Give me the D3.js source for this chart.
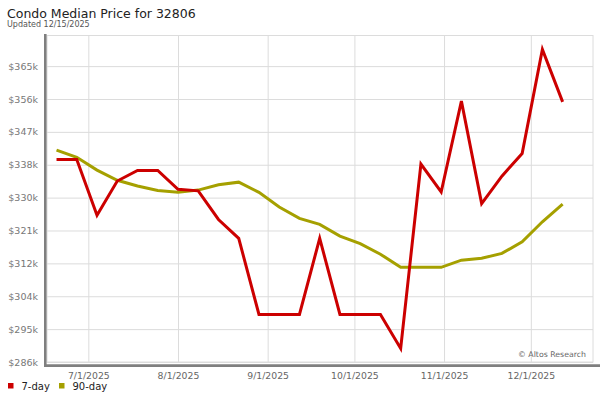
<!DOCTYPE html>
<html>
<head>
<meta charset="utf-8">
<script src="https://cdn.jsdelivr.net/npm/d3@7"></script>
<style>
  html, body { margin: 0; padding: 0; background: #fff; }
  svg { display: block; font-family: "DejaVu Sans", Verdana, sans-serif; }
</style>
</head>
<body>
<svg id="chart" width="600" height="400"></svg>
<script>
// ---- data ----
const titleText = "Condo Median Price for 32806";
const subtitleText = "Updated 12/15/2025";
const dates = ["2025-06-20","2025-06-27","2025-07-04","2025-07-11","2025-07-18","2025-07-25",
  "2025-08-01","2025-08-08","2025-08-15","2025-08-22","2025-08-29","2025-09-05","2025-09-12",
  "2025-09-19","2025-09-26","2025-10-03","2025-10-10","2025-10-17","2025-10-24","2025-10-31",
  "2025-11-07","2025-11-14","2025-11-21","2025-11-28","2025-12-05","2025-12-12"];
const sevenDay = [339800,339800,325000,334100,336900,336900,331900,331500,323900,318900,
  298700,298700,298700,318900,298700,298700,298700,289700,338600,331200,
  355300,328100,335400,341400,369000,355100];
const ninetyDay = [342300,340400,337000,334300,332800,331600,331100,331700,333100,333800,
  331100,327200,324200,322600,319500,317500,314700,311200,311200,311200,
  313100,313600,314900,318000,323300,328000];
const yTickValues = [286100,294820,303540,312260,320980,329700,338420,347140,355860,364580];
const xTickLabels = ["7/1/2025","8/1/2025","9/1/2025","10/1/2025","11/1/2025","12/1/2025"];
const seriesNames = ["7-day","90-day"];
const seriesColors = ["#cc0000","#a5a000"];

// ---- layout ----
const svg = d3.select("#chart");
const pLeft = 47, pRight = 593, pTop = 35.5, pBottom = 362;
const parse = d3.timeParse("%Y-%m-%d");
const parseTick = d3.timeParse("%m/%d/%Y");

const x = d3.scaleTime()
  .domain([new Date(2025,5,16,17), new Date(2025,11,22,12)])
  .range([pLeft, pRight]);
const y = d3.scaleLinear()
  .domain([286100, 372700])
  .range([pBottom, pTop]);

// plot background/border
svg.append("rect").attr("x", pLeft).attr("y", pTop)
  .attr("width", pRight - pLeft).attr("height", pBottom - pTop)
  .attr("fill", "#fff").attr("stroke", "#dcdcdc").attr("stroke-width", 1);

// horizontal grid
const yAxis = d3.axisLeft(y).tickValues(yTickValues)
  .tickSize(-(pRight - pLeft)).tickPadding(9)
  .tickFormat(d => "$" + Math.round(d / 1000) + "k");
const gy = svg.append("g").attr("transform", `translate(${pLeft},0)`).call(yAxis);
gy.select(".domain").remove();
gy.selectAll("line").attr("stroke", "#dcdcdc");
gy.selectAll("text").attr("fill", "#777").style("font-size", "9.5px")
  .attr("font-family", "DejaVu Sans");

// vertical grid
const xTicks = xTickLabels.map(s => parseTick(s));
const xAxis = d3.axisBottom(x).tickValues(xTicks)
  .tickSize(-(pBottom - pTop)).tickPadding(10)
  .tickFormat((d, i) => xTickLabels[i]);
const gx = svg.append("g").attr("transform", `translate(0,${pBottom})`).call(xAxis);
gx.select(".domain").remove();
gx.selectAll("line").attr("stroke", "#dcdcdc");
gx.selectAll("text").attr("fill", "#666").style("font-size", "9.3px")
  .attr("font-family", "DejaVu Sans");

// axis bars
svg.append("line").attr("x1", 45.3).attr("x2", 45.3).attr("y1", 34).attr("y2", 367)
  .attr("stroke", "#7f7f7f").attr("stroke-width", 2.6);
svg.append("line").attr("x1", 44).attr("x2", 600).attr("y1", 365.6).attr("y2", 365.6)
  .attr("stroke", "#7f7f7f").attr("stroke-width", 2.6);

// watermark
svg.append("text").attr("x", 586).attr("y", 357.3).attr("text-anchor", "end")
  .attr("fill", "#666").style("font-size", "7.8px").text("\u00A9 Altos Research");

// lines (90-day first, 7-day on top)
const series = [sevenDay, ninetyDay];
const line = d3.line().x((d, i) => x(parse(dates[i]))).y(d => y(d));
[1, 0].forEach(k => {
  svg.append("path").datum(series[k]).attr("d", line)
    .attr("fill", "none").attr("stroke", seriesColors[k])
    .attr("stroke-width", 3).attr("stroke-linejoin", "miter");
});

// title
svg.append("text").attr("x", 7).attr("y", 18).attr("fill", "#222")
  .style("font-size", "12.5px").text(titleText);
svg.append("text").attr("x", 7).attr("y", 26.7).attr("fill", "#555")
  .style("font-size", "8px").text(subtitleText);

// legend
const legendX = [8, 59];
seriesNames.forEach((name, k) => {
  svg.append("rect").attr("x", legendX[k]).attr("y", 383).attr("width", 5.5).attr("height", 5.5)
    .attr("fill", seriesColors[k]);
  svg.append("text").attr("x", legendX[k] + 13.5).attr("y", 389.5).attr("fill", "#222")
    .style("font-size", "10px").text(name);
});
</script>
</body>
</html>
